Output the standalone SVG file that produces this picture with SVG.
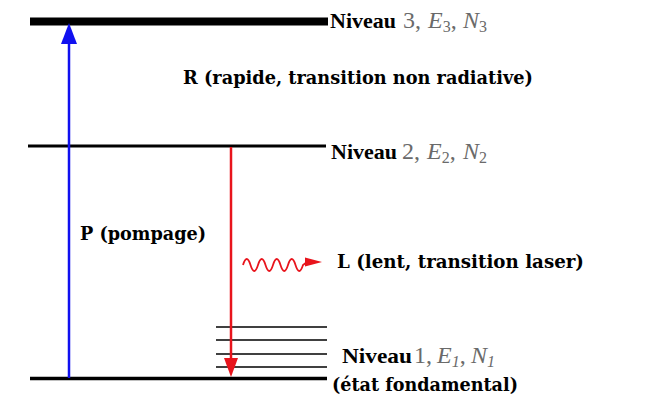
<svg xmlns="http://www.w3.org/2000/svg" width="650" height="400" viewBox="0 0 650 400">
<defs>
<style>
.lvl{stroke:#000;fill:none}
.nv{font-family:"Liberation Serif","Times New Roman",serif;font-weight:bold;font-size:21px;fill:#000}
.gr{font-family:"Liberation Serif","Times New Roman",serif;font-weight:normal;font-size:24px;fill:#6a6a6a}
.it{font-style:italic}
.sub{font-size:16px}
.lab{font-family:"DejaVu Serif","Liberation Serif",serif;font-weight:bold;font-size:18px;fill:#000}
</style>
</defs>
<rect width="650" height="400" fill="#ffffff"/>
<g id="niveau3">
<line class="lvl" x1="30" y1="21.5" x2="328" y2="21.5" stroke-width="8"/>
<text class="nv" x="330" y="28" textLength="66" lengthAdjust="spacingAndGlyphs">Niveau</text>
<text class="gr" y="28"><tspan x="403">3,</tspan><tspan class="it" x="428">E</tspan><tspan class="sub" dy="4">3</tspan><tspan dy="-4">,</tspan><tspan class="it" x="463">N</tspan><tspan class="sub" dy="4">3</tspan></text>
</g>
<g id="niveau2">
<line class="lvl" x1="28" y1="146" x2="326" y2="146" stroke-width="3"/>
<text class="nv" x="331" y="159" textLength="66" lengthAdjust="spacingAndGlyphs">Niveau</text>
<text class="gr" y="159"><tspan x="402">2,</tspan><tspan class="it" x="427">E</tspan><tspan class="sub" dy="4">2</tspan><tspan dy="-4">,</tspan><tspan class="it" x="463">N</tspan><tspan class="sub" dy="4">2</tspan></text>
</g>
<g id="niveau1">
<line class="lvl" x1="30" y1="378.5" x2="327" y2="378.5" stroke-width="3.5"/>
<line class="lvl" x1="216" y1="327" x2="327" y2="327" stroke-width="1.6"/>
<line class="lvl" x1="216" y1="340" x2="327" y2="340" stroke-width="1.6"/>
<line class="lvl" x1="216" y1="354" x2="327" y2="354" stroke-width="1.6"/>
<line class="lvl" x1="216" y1="367" x2="327" y2="367" stroke-width="1.6"/>
<text class="nv" x="342" y="363" textLength="70" lengthAdjust="spacingAndGlyphs">Niveau</text>
<text class="gr" y="363"><tspan x="414">1,</tspan><tspan class="it" x="437">E</tspan><tspan class="sub it" dy="4">1</tspan><tspan dy="-4">,</tspan><tspan class="it" x="471">N</tspan><tspan class="sub it" dy="4">1</tspan></text>
<text class="lab" x="332" y="391" textLength="186" lengthAdjust="spacingAndGlyphs">(état fondamental)</text>
</g>
<g id="labels">
<text class="lab" x="183" y="84" textLength="350" lengthAdjust="spacingAndGlyphs">R (rapide, transition non radiative)</text>
<text class="lab" x="80" y="240" textLength="126" lengthAdjust="spacingAndGlyphs">P (pompage)</text>
<text class="lab" x="337" y="268" textLength="247" lengthAdjust="spacingAndGlyphs">L (lent, transition laser)</text>
</g>
<g id="connectors">
<line x1="69" y1="378" x2="69" y2="43" stroke="#1010f0" stroke-width="2.5"/>
<path d="M61,44 L69,23 L77,44 Z" fill="#1010f0"/>
<line x1="231" y1="147" x2="231" y2="360" stroke="#e8141c" stroke-width="2.5"/>
<path d="M224,358 L231,377 L238,358 Z" fill="#e8141c"/>
<path d="M243,265 q3.75,-12 7.5,0 t7.5,0 t7.5,0 t7.5,0 t7.5,0 t7.5,0 t7.5,0 t7.5,0 L307,262" fill="none" stroke="#e8141c" stroke-width="1.8"/>
<path d="M305,257.5 L322,262 L305,266.5 Z" fill="#e8141c"/>
</g>
</svg>
